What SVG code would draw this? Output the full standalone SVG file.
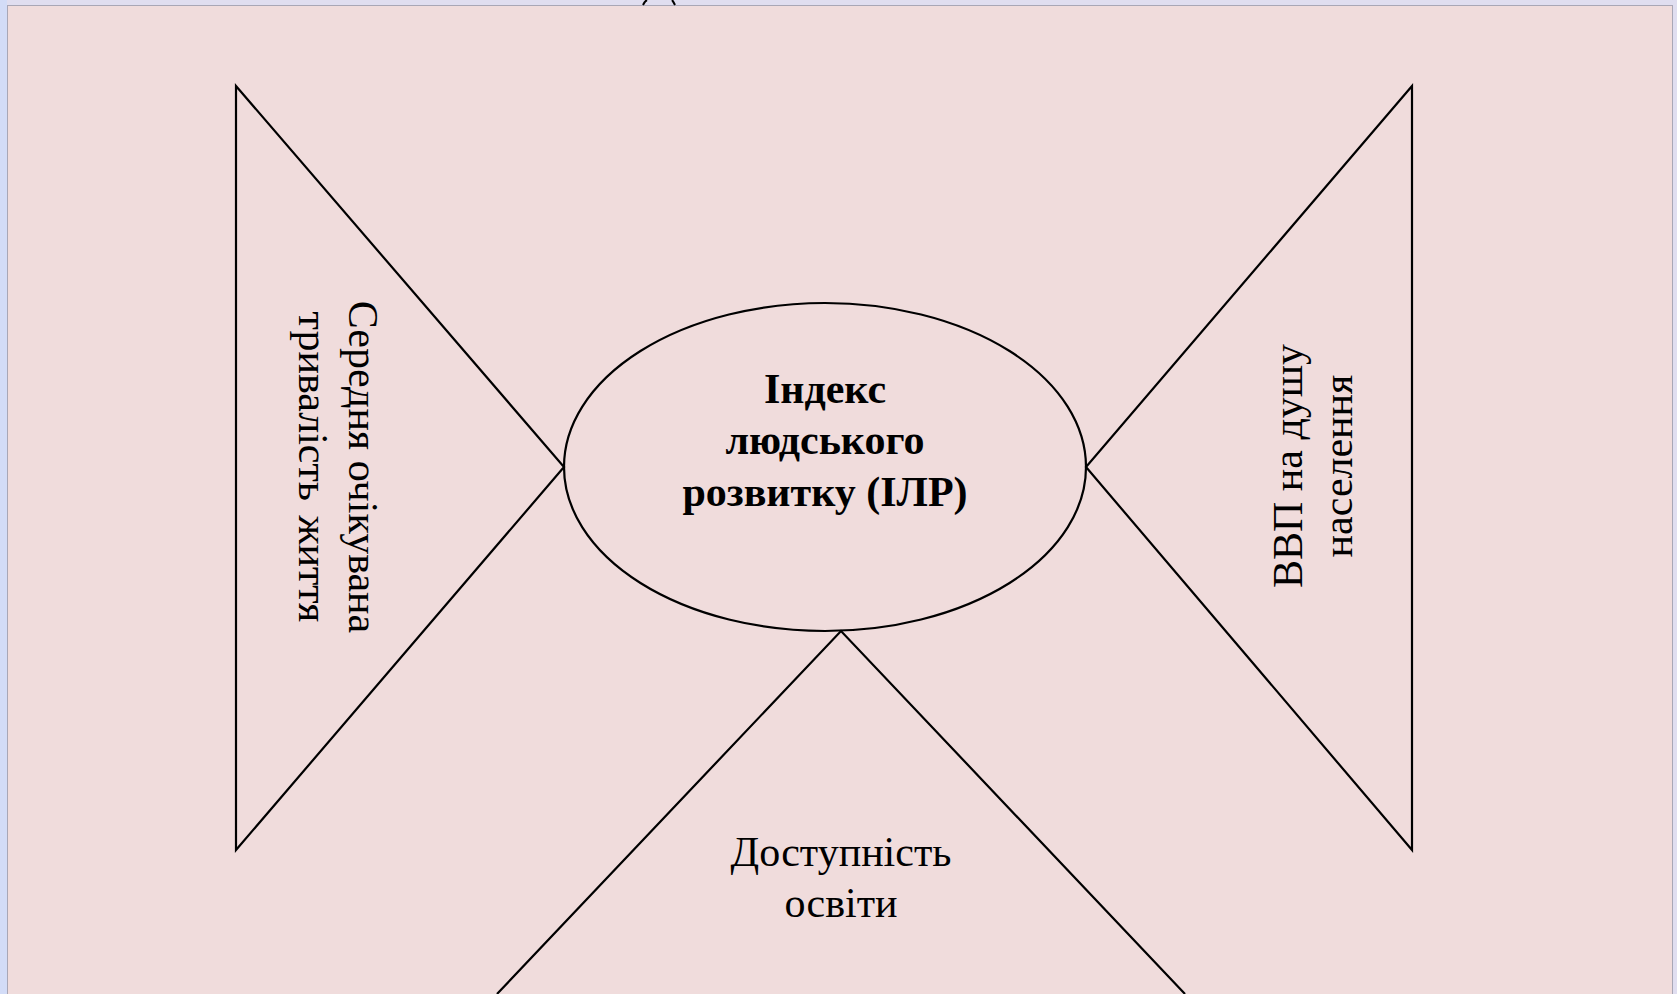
<svg xmlns="http://www.w3.org/2000/svg" width="1677" height="994" viewBox="0 0 1677 994">
<style>
.shape{fill:none;stroke:#000;stroke-width:2.2}
.lbl{font-family:"Liberation Serif","Times New Roman",serif;font-size:42px;fill:#000}
.bold{font-weight:bold;font-size:42px}
</style>
<rect x="0" y="0" width="1677" height="994" fill="#e0def0"/>
<rect x="0" y="0" width="7" height="994" fill="#d3dcf7"/>
<rect x="7.5" y="5.5" width="1665" height="995" fill="#f0dcdc" stroke="#a9a7b6" stroke-width="1"/>
<g id="top-fragment">
<path d="M643,5 Q645,1 647,0 M675,5 Q673,1 672,0" fill="none" stroke="#000" stroke-width="2"/>
</g>
<g id="connectors">
</g>
<g id="node-life">
<polygon class="shape" points="236,86 564,467 236,850"/>
<text class="lbl" transform="translate(349,467) rotate(90)" text-anchor="middle">Середня очікувана</text>
<text class="lbl" transform="translate(299,467) rotate(90)" text-anchor="middle" word-spacing="4">тривалість життя</text>
</g>
<g id="node-gdp">
<polygon class="shape" points="1412,86 1086,467 1412,850"/>
<text class="lbl" transform="translate(1302,466) rotate(-90)" text-anchor="middle">ВВП на душу</text>
<text class="lbl" transform="translate(1352,466) rotate(-90)" text-anchor="middle">населення</text>
</g>
<g id="node-edu">
<polyline class="shape" points="497,994 841,631 1185,994"/>
<text class="lbl" x="841" y="866" text-anchor="middle">Доступність</text>
<text class="lbl" x="841" y="917" text-anchor="middle">освіти</text>
</g>
<g id="node-hdi">
<ellipse class="shape" cx="825" cy="467" rx="261" ry="164" fill="#f0dcdc"/>
<text class="lbl bold" x="825" y="403" text-anchor="middle">Індекс</text>
<text class="lbl bold" x="825" y="454" text-anchor="middle">людського</text>
<text class="lbl bold" x="825" y="506" text-anchor="middle">розвитку (ІЛР)</text>
</g>
</svg>
